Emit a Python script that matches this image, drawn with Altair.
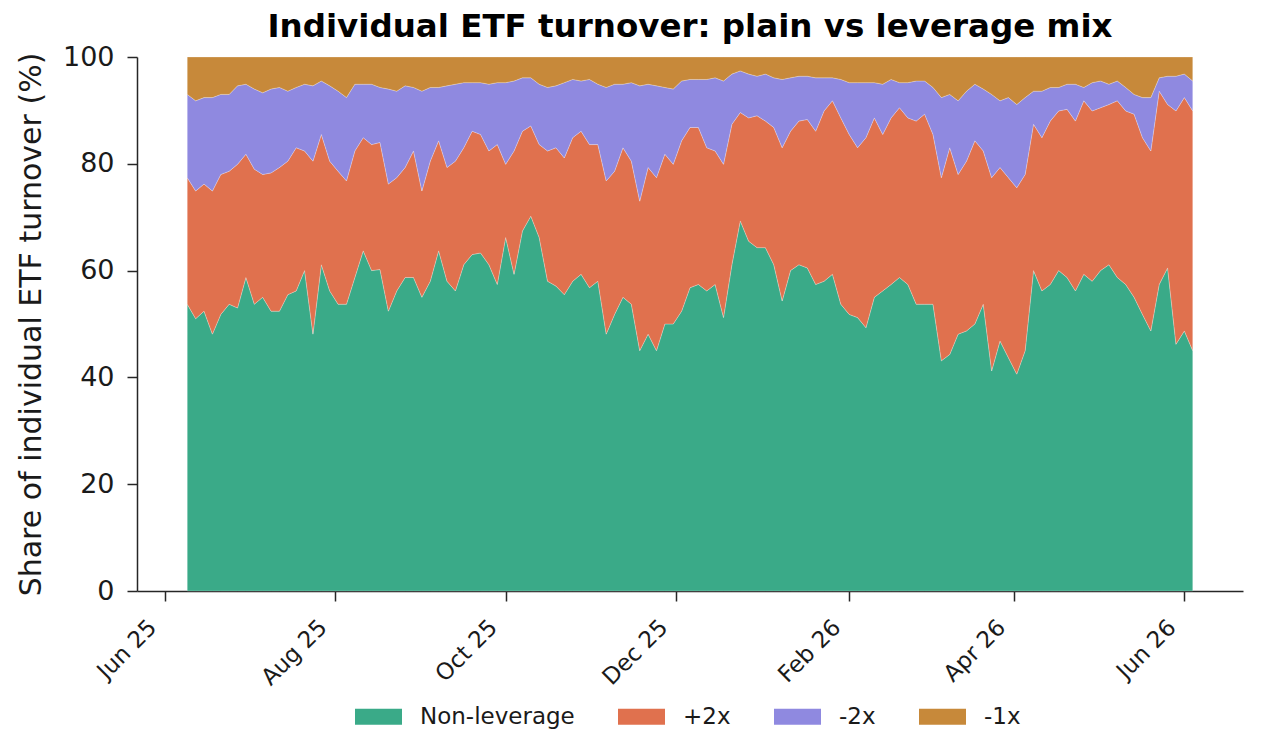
import altair as alt
import pandas as pd

# Sampling dates (every 3 days, 2025-06-09 .. 2026-06-04)
dates = pd.date_range("2025-06-09", periods=121, freq="3D").strftime("%Y/%m/%d").tolist()

series_names = ["Non-leverage", "+2x", "-2x", "-1x"]
series_colors = ["#3aaa88", "#e0714e", "#8f89e0", "#c7893a"]

non_leverage = [
    53.7, 51.0, 52.4, 48.1, 51.8, 53.7, 53.0, 58.7, 53.7, 55.0,
    52.4, 52.4, 55.5, 56.2, 60.0, 48.1, 61.1, 56.2, 53.7, 53.7,
    58.7, 63.7, 60.0, 60.2, 52.4, 56.2, 58.7, 58.7, 55.0, 58.0,
    63.7, 58.0, 56.2, 61.1, 63.0, 63.3, 61.1, 57.4, 66.2, 59.3,
    67.4, 70.2, 66.2, 58.0, 57.1, 55.5, 58.0, 59.3, 56.8, 58.0,
    48.1, 51.8, 55.0, 53.7, 45.0, 48.1, 45.0, 50.0, 50.0, 52.4,
    56.8, 57.4, 56.2, 57.4, 51.2, 61.1, 69.3, 65.5, 64.3, 64.3,
    61.1, 54.3, 60.0, 61.1, 60.5, 57.4, 58.0, 59.3, 53.7, 51.8,
    51.2, 49.3, 55.0, 56.2, 57.4, 58.7, 57.4, 53.7, 53.7, 53.7,
    43.1, 44.3, 48.1, 48.7, 50.0, 53.7, 41.2, 46.8, 43.7, 40.6,
    45.0, 60.0, 56.2, 57.4, 60.0, 58.7, 56.2, 59.3, 58.0, 60.0,
    61.1, 58.7, 57.4, 55.0, 51.8, 48.7, 57.4, 60.5, 46.2, 48.7,
    45.0,
]
plus_2x = [
    23.7, 23.9, 23.8, 26.8, 26.2, 24.9, 26.9, 23.1, 25.3, 23.0,
    25.9, 26.9, 25.0, 26.8, 22.4, 32.4, 24.4, 24.3, 24.9, 23.1,
    23.7, 21.2, 23.6, 23.8, 23.8, 21.2, 20.6, 23.7, 19.9, 22.5,
    20.6, 21.3, 24.3, 21.9, 23.1, 22.2, 21.3, 26.2, 13.7, 23.1,
    18.7, 16.9, 17.4, 24.4, 25.9, 25.6, 26.9, 26.8, 26.8, 25.6,
    28.7, 26.8, 28.0, 26.8, 28.0, 31.2, 32.4, 31.8, 29.9, 31.9,
    30.0, 29.4, 26.8, 25.0, 28.7, 26.3, 20.3, 23.1, 24.7, 23.7,
    25.7, 28.7, 26.1, 26.9, 27.8, 28.7, 31.9, 32.5, 34.9, 33.7,
    31.8, 35.6, 33.6, 29.3, 31.2, 31.8, 31.2, 34.3, 35.6, 31.8,
    34.3, 38.7, 29.9, 31.8, 34.3, 28.7, 36.2, 32.5, 33.7, 34.9,
    33.0, 27.4, 28.7, 30.6, 29.9, 31.5, 31.8, 32.5, 31.9, 30.5,
    30.0, 33.1, 32.5, 34.3, 33.1, 33.7, 36.2, 30.6, 43.7, 43.7,
    44.9,
]
minus_2x = [
    15.6, 16.9, 16.2, 17.5, 15.0, 14.4, 14.7, 13.1, 15.0, 15.3,
    15.7, 15.0, 13.1, 11.3, 12.5, 14.1, 10.0, 14.1, 15.0, 15.6,
    12.5, 10.0, 11.3, 10.3, 17.8, 16.2, 15.3, 11.9, 18.7, 13.8,
    10.0, 15.3, 14.4, 12.2, 9.1, 9.7, 12.5, 11.6, 15.3, 13.1,
    10.0, 9.0, 11.3, 11.9, 11.6, 14.1, 10.9, 9.4, 12.2, 11.3,
    17.5, 16.3, 11.9, 14.7, 21.6, 15.6, 17.2, 12.5, 14.1, 11.2,
    9.0, 9.0, 12.8, 13.7, 15.6, 9.4, 7.8, 8.2, 7.4, 8.8,
    9.3, 12.8, 10.0, 8.4, 8.1, 10.0, 6.2, 4.3, 7.2, 9.7,
    12.2, 10.3, 6.6, 9.4, 7.2, 4.7, 6.6, 7.5, 6.2, 8.8,
    15.0, 10.0, 13.8, 13.1, 10.6, 11.6, 15.6, 12.5, 15.0, 15.6,
    14.4, 6.2, 8.7, 6.3, 4.4, 4.7, 6.9, 2.5, 5.3, 5.0,
    3.8, 3.7, 4.4, 3.7, 7.5, 10.0, 2.5, 5.3, 6.5, 4.4,
    5.6,
]
minus_1x = [
    7.0, 8.2, 7.6, 7.6, 7.0, 7.0, 5.4, 5.1, 6.0, 6.7,
    6.0, 5.7, 6.4, 5.7, 5.1, 5.4, 4.5, 5.4, 6.4, 7.6,
    5.1, 5.1, 5.1, 5.7, 6.0, 6.4, 5.4, 5.7, 6.4, 5.7,
    5.7, 5.4, 5.1, 4.8, 4.8, 4.8, 5.1, 4.8, 4.8, 4.5,
    3.9, 3.9, 5.1, 5.7, 5.4, 4.8, 4.2, 4.5, 4.2, 5.1,
    5.7, 5.1, 5.1, 4.8, 5.4, 5.1, 5.4, 5.7, 6.0, 4.5,
    4.2, 4.2, 4.2, 3.9, 4.5, 3.2, 2.6, 3.2, 3.6, 3.2,
    3.9, 4.2, 3.9, 3.6, 3.6, 3.9, 3.9, 3.9, 4.2, 4.8,
    4.8, 4.8, 4.8, 5.1, 4.2, 4.8, 4.8, 4.5, 4.5, 5.7,
    7.6, 7.0, 8.2, 6.4, 5.1, 6.0, 7.0, 8.2, 7.6, 8.9,
    7.6, 6.4, 6.4, 5.7, 5.7, 5.1, 5.1, 5.7, 4.8, 4.5,
    5.1, 4.5, 5.7, 7.0, 7.6, 7.6, 3.9, 3.6, 3.6, 3.2,
    4.5,
]

tick_dates = [(2025, 6), (2025, 8), (2025, 10), (2025, 12), (2026, 2), (2026, 4), (2026, 6)]
y_ticks = [0, 20, 40, 60, 80, 100]

rows = []
for k, (name, vals) in enumerate(zip(series_names, [non_leverage, plus_2x, minus_2x, minus_1x])):
    for d, v in zip(dates, vals):
        rows.append({"date": d, "series": name, "share": v, "k": k})
df = pd.DataFrame(rows)

FONT = "DejaVu Sans"

legend_rect = "M-1,-0.34L1,-0.34L1,0.34L-1,0.34Z"

chart = (
    alt.Chart(df)
    .mark_area(interpolate="linear", stroke="white", strokeWidth=0.7, strokeOpacity=0.35)
    .encode(
        x=alt.X(
            "date:T",
            scale=alt.Scale(
                domain=[alt.DateTime(year=2025, month=5, date=22), alt.DateTime(year=2026, month=6, date=22)],
                nice=False,
            ),
            axis=alt.Axis(
                title=None,
                values=[alt.DateTime(year=y, month=m, date=1) for y, m in tick_dates],
                format="%b %y",
                labelAngle=-45,
                labelAlign="right",
                labelBaseline="bottom",
                labelFontSize=23,
                labelPadding=31,
                labelOffset=-4,
                tickSize=10,
                grid=False,
            ),
        ),
        y=alt.Y(
            "share:Q",
            stack="zero",
            scale=alt.Scale(domain=[0, 100], nice=False),
            axis=alt.Axis(
                title="Share of individual ETF turnover (%)",
                values=y_ticks,
                labelFontSize=27,
                titleFontSize=30,
                titleFontWeight="normal",
                tickSize=10,
                labelPadding=13,
                titlePadding=16,
                grid=False,
            ),
        ),
        color=alt.Color(
            "series:N",
            scale=alt.Scale(domain=series_names, range=series_colors),
            legend=alt.Legend(
                title=None,
                orient="none",
                legendX=218,
                legendY=636,
                direction="horizontal",
                labelFontSize=23,
                symbolType=legend_rect,
                symbolSize=2209,
                symbolStrokeWidth=0,
                symbolOpacity=1,
                labelOffset=18,
                columnPadding=43,
            ),
        ),
        order=alt.Order("k:Q", sort="ascending"),
    )
    .properties(
        width=1106,
        height=534,
        title=alt.Title(
            "Individual ETF turnover: plain vs leverage mix",
            fontSize=32.5,
            fontWeight="bold",
            font=FONT,
            color="black",
            anchor="middle",
            offset=0,
        ),
        padding={"left": 8, "top": 2, "right": 8, "bottom": 0},
    )
    .configure(font=FONT, background="white")
    .configure_view(stroke=None)
    .configure_axis(
        labelFont=FONT,
        titleFont=FONT,
        labelColor="#1a1a1a",
        titleColor="#1a1a1a",
        domainColor="#262626",
        tickColor="#262626",
        domainWidth=1.5,
        tickWidth=1.5,
    )
    .configure_legend(labelFont=FONT, labelColor="#1a1a1a")
)

chart.save("out.html", embed_options={"renderer": "svg", "actions": False})
